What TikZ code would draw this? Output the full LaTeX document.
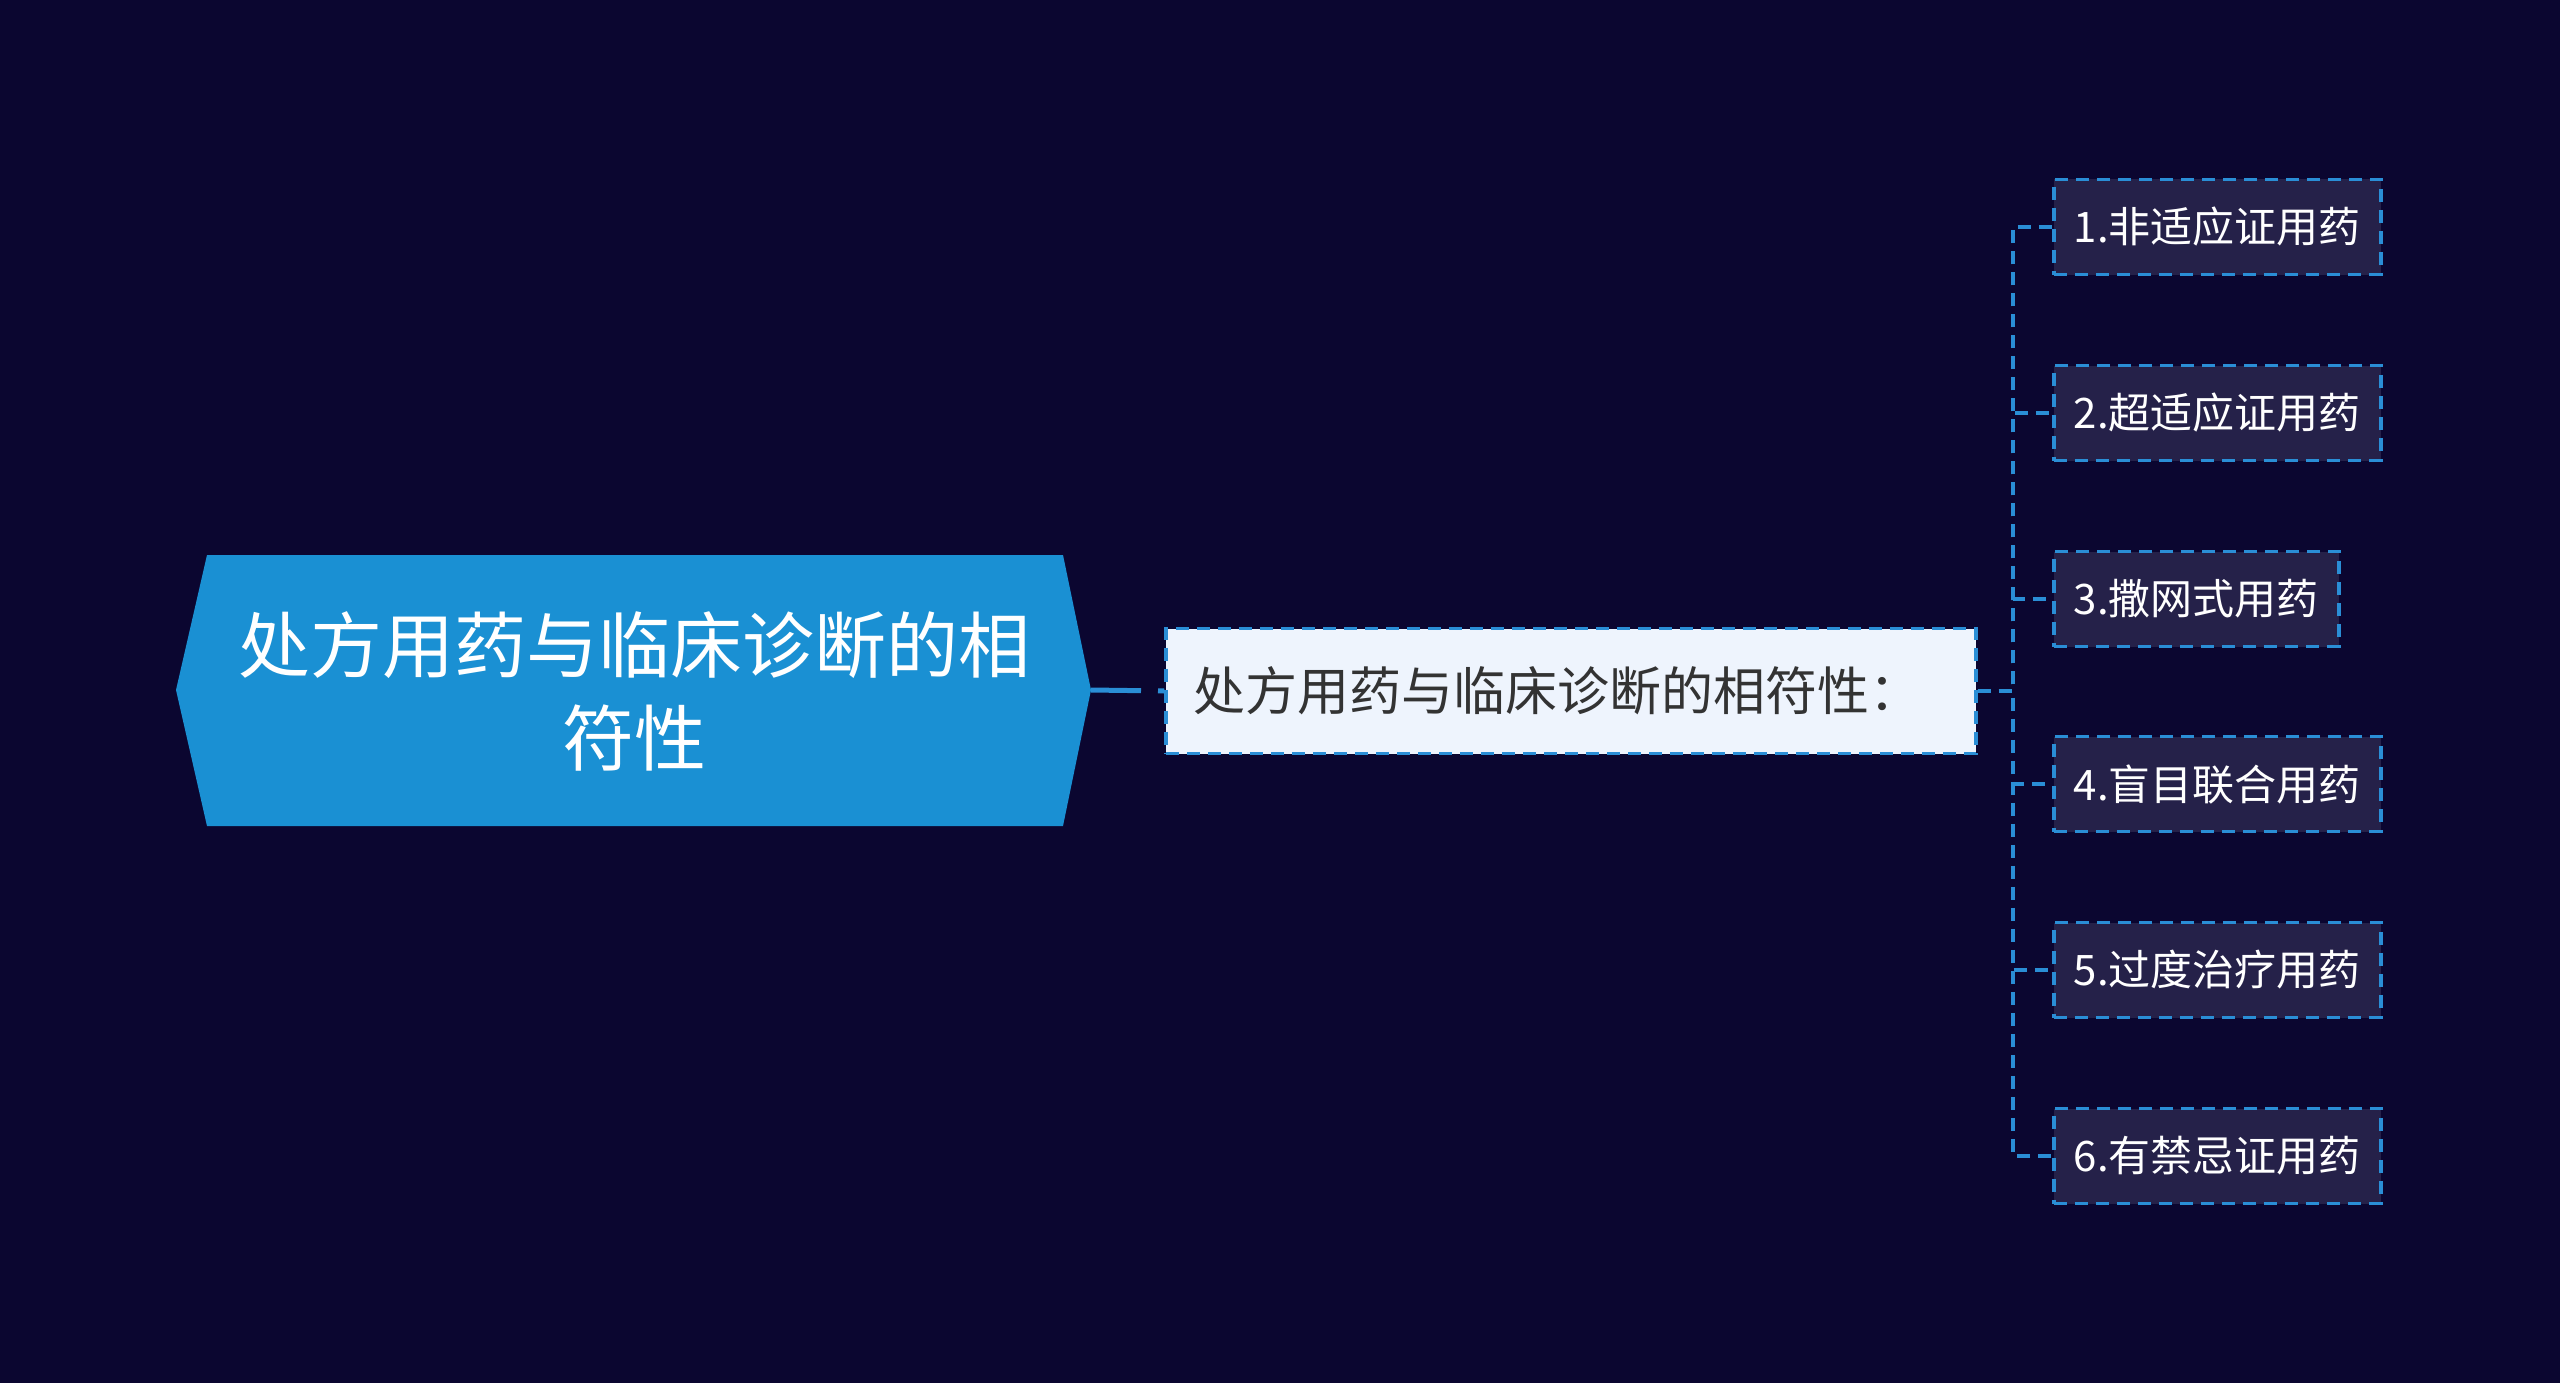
\documentclass[tikz,border=0pt]{standalone}
\usepackage{fontspec}
\setmainfont{Noto Sans CJK SC}
\definecolor{bgcol}{HTML}{0B0630}
\definecolor{rootcol}{HTML}{1A90D3}
\definecolor{linecol}{HTML}{2A8ED6}
\definecolor{leaffill}{HTML}{252149}
\definecolor{midfill}{HTML}{EEF4FD}
\definecolor{midtext}{HTML}{333333}
\tikzset{
  roottext/.style={text=white, align=center, font=\fontsize{72pt}{93pt}\selectfont, inner sep=0pt},
  midbox/.style={draw=linecol, line width=3.5pt, dash pattern=on 13pt off 8pt, fill=midfill, text=midtext,
    text width=756pt, align=left, inner xsep=27pt, inner ysep=0pt, minimum height=125pt,
    font=\fontsize{52pt}{62pt}\selectfont},
  leafbox/.style={draw=linecol, line width=3.5pt, dash pattern=on 13pt off 8pt, fill=leaffill, text=white,
    inner xsep=20pt, inner ysep=0pt, minimum height=95pt, anchor=west,
    font=\fontsize{42pt}{50pt}\selectfont},
  conn/.style={draw=linecol, line width=3.5pt, dash pattern=on 13pt off 8pt},
  rootline/.style={draw=linecol, line width=5pt, dash pattern=on 50pt off 17pt on 8pt off 100pt},
}
\begin{document}
\begin{tikzpicture}[x=1pt,y=-1pt]
\fill[bgcol] (0,0) rectangle (2560,1383);
\useasboundingbox (0,0) rectangle (2560,1383);
\fill[rootcol] (176,690) -- (207,555) -- (1063,555) -- (1091,690) -- (1063,826) -- (207,826) -- cycle;
\node[roottext] (root) at (634,691) {处方用药与临床诊断的相\\符性};
\coordinate (rootR) at (1091,690);
\node[midbox] (mid) at (1571,691) {处方用药与临床诊断的相符性：};
\coordinate (jn) at (2013,691);
\node[leafbox] (l1) at (2052,227) {1.非适应证用药};
\node[leafbox] (l2) at (2052,413) {2.超适应证用药};
\node[leafbox] (l3) at (2052,599) {3.撒网式用药};
\node[leafbox] (l4) at (2052,784) {4.盲目联合用药};
\node[leafbox] (l5) at (2052,970) {5.过度治疗用药};
\node[leafbox] (l6) at (2052,1156) {6.有禁忌证用药};
\draw[rootline] (rootR) -- (mid.west);
\foreach \i in {1,...,6} {
  \draw[conn] (mid.east) -- (jn) |- (l\i.west);
}
\end{tikzpicture}
\end{document}
